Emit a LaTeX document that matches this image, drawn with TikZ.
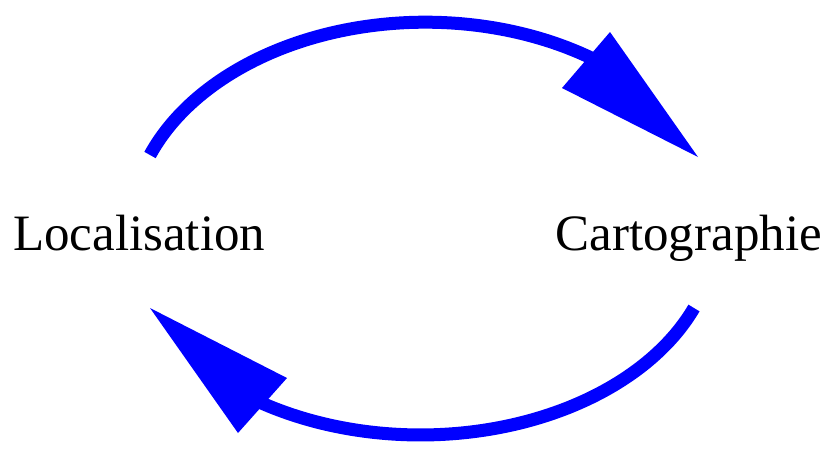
\documentclass[tikz,border=0pt]{standalone}
\usepackage{fontspec}
\setmainfont{Liberation Serif}
\begin{document}
\begin{tikzpicture}[x=1pt,y=-1pt,
  arcline/.style={draw=blue, line width=13pt, line cap=butt},
  headtri/.style={fill=blue, draw=none},
  label/.style={inner sep=0pt, font=\fontsize{51}{51}\selectfont}]
\useasboundingbox (0,0) rectangle (835,448);
\fill[white] (0,0) rectangle (835,448);
\node[label, anchor=base west] (loc) at (13,250) {Localisation};
\node[label, anchor=base east] (carto) at (822,250) {Cartographie};
% top arc
\coordinate (tA) at (610,32);
\coordinate (tB) at (562,88);
\coordinate (tTip) at (698,157);
\draw[arcline] (150,155) arc[start angle=201, end angle=306, x radius=295, y radius=207];
\fill[headtri] (tA) -- (tTip) -- (tB) -- cycle;
% bottom arc
\coordinate (bA) at (287,378);
\coordinate (bB) at (238,433);
\coordinate (bTip) at (150,308);
\draw[arcline] (694,308) arc[start angle=22, end angle=128, x radius=295, y radius=203];
\fill[headtri] (bA) -- (bTip) -- (bB) -- cycle;
\end{tikzpicture}
\end{document}
